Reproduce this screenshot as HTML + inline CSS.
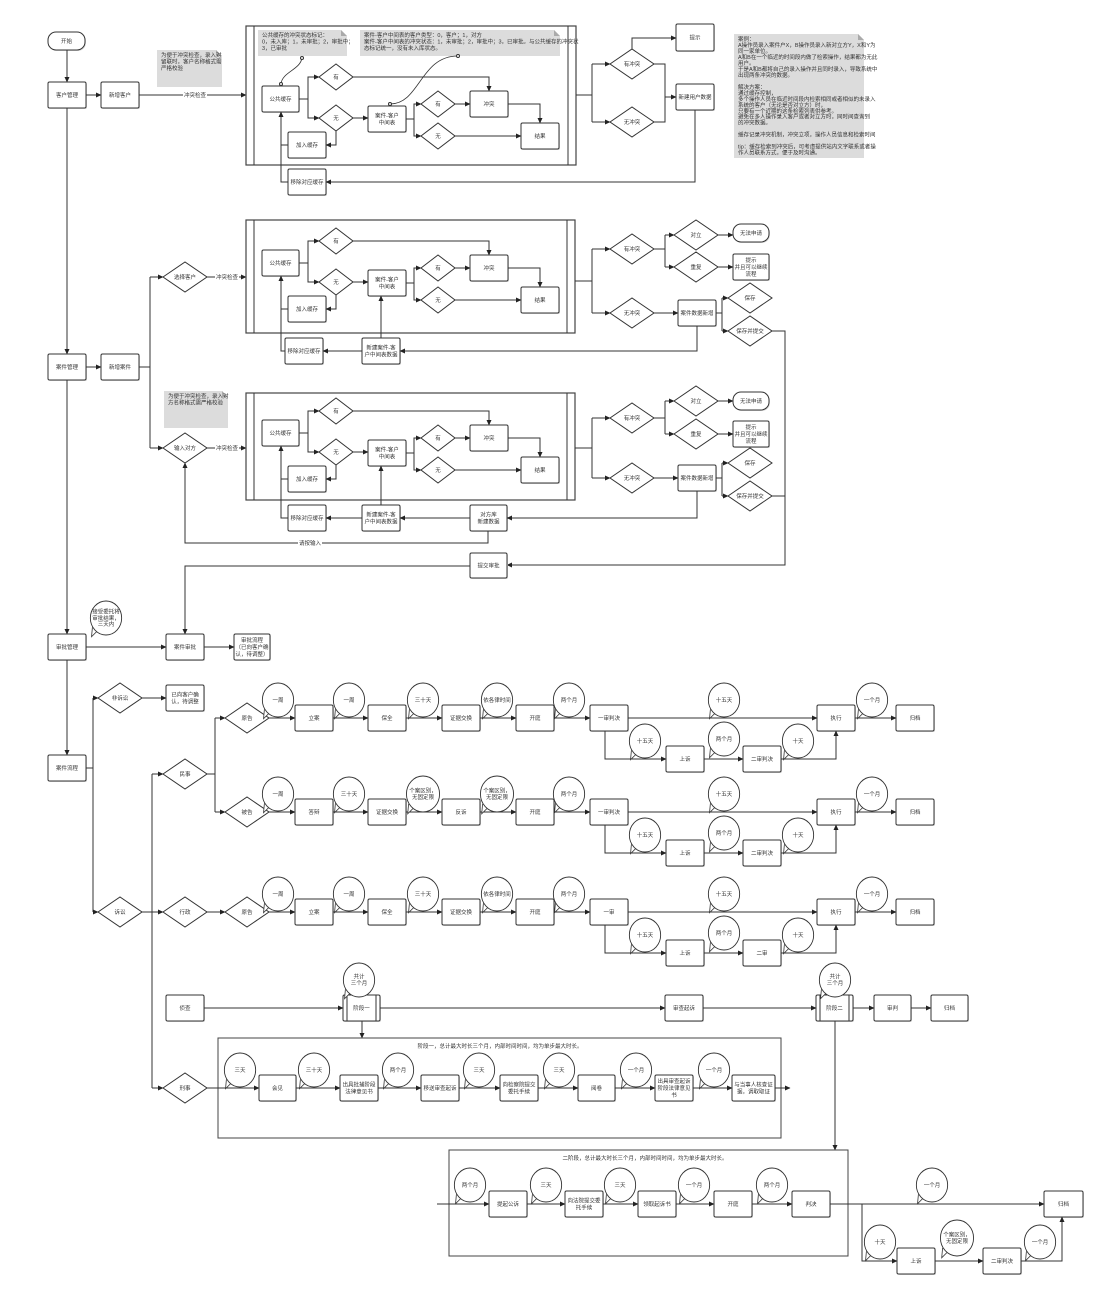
<!DOCTYPE html>
<html><head><meta charset="utf-8">
<style>
html,body{margin:0;padding:0;background:#fff;}
svg{display:block;}
text{font-family:"Liberation Sans","Noto Sans CJK SC",sans-serif;font-size:5.5px;fill:#333;}
</style></head>
<body>
<svg id="s" width="1100" height="1296" viewBox="0 0 1100 1296" xmlns="http://www.w3.org/2000/svg">
<defs>
<marker id="a" markerWidth="6" markerHeight="6" refX="5" refY="3" orient="auto" markerUnits="userSpaceOnUse">
<path d="M0,0.5 L5.5,3 L0,5.5 z" fill="#222"/></marker>
</defs>
<g id="g"></g>
</svg>
<script>
var G=document.getElementById('g'),NS='http://www.w3.org/2000/svg';
function el(t,at,txt){var e=document.createElementNS(NS,t);for(var k in at)e.setAttribute(k,at[k]);if(txt!=null)e.textContent=txt;G.appendChild(e);return e;}
function txt(cx,cy,s,fs){var L=s.split('\n'),lh=(fs||5.5)*1.25;var y0=cy-(L.length-1)*lh/2+ (fs||5.5)*0.35;
 for(var i=0;i<L.length;i++)el('text',{x:cx,y:y0+i*lh,'text-anchor':'middle','font-size':fs||5.5},L[i]);}
function box(x1,y1,x2,y2,s,r){el('rect',{x:x1+1,y:y1+1,width:x2-x1,height:y2-y1,fill:'#ddd',rx:r||1.5});
 el('rect',{x:x1,y:y1,width:x2-x1,height:y2-y1,fill:'#fff',stroke:'#333','stroke-width':1,rx:r||1.5});txt((x1+x2)/2,(y1+y2)/2,s);}
function dia(cx,cy,w,h,s){el('polygon',{points:(cx-w/2)+','+cy+' '+cx+','+(cy-h/2)+' '+(cx+w/2)+','+cy+' '+cx+','+(cy+h/2),fill:'#fff',stroke:'#333','stroke-width':1});txt(cx,cy,s);}
function ln(p,arr){var d='M'+p[0]+','+p[1];for(var i=2;i<p.length;i+=2)d+=' L'+p[i]+','+p[i+1];
 var at={d:d,fill:'none',stroke:'#333','stroke-width':1};if(arr!==false)at['marker-end']='url(#a)';el('path',at);}
function bub(cx,cy,s,r){r=r||17;el('path',{d:'M'+(cx-r*0.55)+','+(cy+r*0.8)+' L'+(cx-r*0.85)+','+(cy+r*1.1)+' L'+(cx-r*0.8)+','+(cy+r*0.55),fill:'#fff',stroke:'#333','stroke-width':0.8});
 el('ellipse',{cx:cx,cy:cy,rx:r*0.92,ry:r,fill:'#fff',stroke:'#333','stroke-width':0.9});txt(cx,cy,s,5);}
function note(x,y,w,h,s,fs){el('path',{d:'M'+x+','+y+' H'+(x+w-6)+' L'+(x+w)+','+(y+6)+' V'+(y+h)+' H'+x+' Z',fill:'#dcdcdc'});
 el('path',{d:'M'+(x+w-6)+','+y+' V'+(y+6)+' H'+(x+w)+' Z',fill:'#aaa'});
 var L=s.split('\n'),lh=(fs||5)*1.3;for(var i=0;i<L.length;i++)el('text',{x:x+4,y:y+7+i*lh,'font-size':fs||5},L[i]);}
function lbl(x,y,s){el('rect',{x:x-12,y:y-3.5,width:24,height:7,fill:'#fff'});txt(x,y,s,5);}
function cont(x1,y1,x2,y2){el('rect',{x:x1,y:y1,width:x2-x1,height:y2-y1,fill:'none',stroke:'#444','stroke-width':1.2});
 ln([x1+8,y1,x1+8,y2],false);ln([x2-8,y1,x2-8,y2],false);}

/* ---------- inner check block ---------- */
function inner(by){
 box(262,by,299,by+26,'公共缓存');
 dia(336,by-9,34,26,'有');dia(336,by+32,34,26,'无');
 box(288,by+46,326,by+72,'加入缓存');
 box(368,by+20,406,by+46,'案件-客户\n中间表');
 dia(438,by+18,34,26,'有');dia(438,by+50,34,26,'无');
 box(470,by+5,508,by+31,'冲突');box(521,by+37,559,by+63,'结果');
 ln([299,by+13,308,by+13,308,by-9,319,by-9]);ln([308,by+13,308,by+32,319,by+32]);
 ln([353,by-9,489,by-9,489,by+5]);ln([353,by+32,368,by+32]);
 ln([336,by+45,336,by+59,326,by+59]);
 ln([406,by+33,414,by+33,414,by+18,421,by+18]);ln([414,by+33,414,by+50,421,by+50]);
 ln([455,by+18,470,by+18]);ln([455,by+50,521,by+50]);
 ln([508,by+18,540,by+18,540,by+37]);
 ln([288,by+59,281,by+59],false);
}
/* ---------- section 1 ---------- */
box(48,32,85,50,'开始',8);
ln([67,50,67,82]);
box(48,82,86,108,'客户管理');box(101,82,139,108,'新增客户');
ln([86,95,101,95]);
note(157,50,65,37,'为便于冲突检查，录入对\n留联时，客户名称格式需\n严格校验');
ln([139,95,246,95]);lbl(195,95,'冲突检查');
cont(246,26,576,165);
note(258,30,89,26,'公共缓存的冲突状态标记：\n0，未入库；1，未审批；2，审批中；\n3，已审批');
note(360,30,200,26,'案件-客户中间表的客户类型：0，客户；1，对方\n案件-客户中间表的冲突状态：1，未审批；2，审批中；3，已审批。与公共缓存的冲突状\n态标记统一，没有未入库状态。');
inner(86);
el('path',{d:'M302,58 C300,70 282,72 281,84',fill:'none',stroke:'#333','stroke-width':0.8});
el('circle',{cx:302,cy:58,r:1.5,fill:'#fff',stroke:'#333'});el('circle',{cx:281,cy:84,r:1.5,fill:'#fff',stroke:'#333'});
el('path',{d:'M458,56 C420,56 420,104 390,104',fill:'none',stroke:'#333','stroke-width':0.8});
el('circle',{cx:458,cy:56,r:1.5,fill:'#fff',stroke:'#333'});el('circle',{cx:390,cy:104,r:1.5,fill:'#fff',stroke:'#333'});
box(288,169,326,195,'移除对应缓存');
ln([288,182,281,182,281,112]);
ln([576,95,592,95],false);ln([592,64,592,122],false);ln([592,64,610,64]);ln([592,122,610,122]);
dia(632,64,44,30,'有冲突');dia(632,122,44,30,'无冲突');
box(676,24,714,51,'提示');box(676,84,714,110,'新建用户数据');
ln([632,49,632,38,676,38]);
ln([654,64,665,64,665,122,654,122],false);ln([665,97,676,97]);
ln([695,110,695,182,326,182]);
note(734,34,130,124,'案例：\nA操作员录入案件户X，B操作员录入新对立方Y，X和Y为\n同一家单位。\nA和B在一个临近的时间段内做了检索操作，结果都为无此\n用户。\n于是A和B都将自己的录入操作并且同时录入，导致系统中\n出现两条冲突的数据。\n\n解决方案：\n通过缓存控制，\n多个操作人员在临近时间段内检索相同或者相似的未录入\n系统的客户（无论是否对立方）时，\n只要有一个近期的这条检索列表供参考。\n避免在多人操作录入客户或者对立方时，同时间查询到\n的冲突数据。\n\n缓存记录冲突机制，冲突立项，操作人员信息和检索时间\n\ntip：缓存检索到冲突后，可考虑提供站内文字联系或者操\n作人员联系方式，便于及时沟通。',4.6);

/* ---------- left spine ---------- */
ln([67,108,67,354]);
box(48,354,86,380,'案件管理');box(101,354,139,380,'新增案件');
ln([86,367,101,367]);
ln([139,367,150,367],false);ln([150,277,150,448],false);ln([150,277,163,277]);ln([150,448,163,448]);

/* ---------- section 2 ---------- */
dia(185,277,44,30,'选择客户');
ln([207,277,246,277]);lbl(227,277,'冲突检查');
cont(246,220,575,333);
inner(250);
box(285,338,323,364,'移除对应缓存');box(362,338,400,364,'新建案件-客\n户中间表数据');
ln([381,338,381,296]);ln([362,351,323,351]);ln([285,351,281,351,281,276]);
ln([575,281,592,281],false);ln([592,249,592,313],false);ln([592,249,610,249]);ln([592,313,610,313]);
dia(632,249,44,30,'有冲突');dia(632,313,44,30,'无冲突');
ln([654,249,665,249],false);ln([665,235,665,267],false);ln([665,235,674,235]);ln([665,267,674,267]);
dia(696,235,44,30,'对立');dia(696,267,44,30,'重复');
box(733,224,769,242,'无法申请',8);box(733,254,769,280,'提示\n并且可以继续\n流程');
ln([718,235,733,235]);ln([718,267,733,267]);
ln([654,313,678,313]);box(678,300,716,326,'案件数据新增');
ln([716,313,722,313],false);ln([722,298,722,331],false);ln([722,298,728,298]);ln([722,331,728,331]);
dia(750,298,44,30,'保存');dia(750,331,44,30,'保存并提交');
ln([697,326,697,351,400,351]);
ln([772,331,785,331,785,565,507,565]);

/* ---------- section 3 ---------- */
note(164,391,64,37,'为便于冲突检查，录入对\n方名称格式需严格校验');
dia(185,448,44,30,'输入对方');
ln([207,448,246,448]);lbl(227,448,'冲突检查');
cont(246,393,575,500);
inner(420);
box(288,505,326,531,'移除对应缓存');box(362,505,400,531,'新建案件-客\n户中间表数据');box(470,505,507,531,'对方库\n新建数据');
ln([381,505,381,466]);ln([362,518,326,518]);ln([288,518,281,518,281,446]);ln([470,518,400,518]);
ln([488,531,488,543,185,543,185,463]);lbl(310,543,'请按输入');
ln([575,448,592,448],false);ln([592,418,592,478],false);ln([592,418,610,418]);ln([592,478,610,478]);
dia(632,418,44,30,'有冲突');dia(632,478,44,30,'无冲突');
ln([654,418,665,418],false);ln([665,401,665,434],false);ln([665,401,674,401]);ln([665,434,674,434]);
dia(696,401,44,30,'对立');dia(696,434,44,30,'重复');
box(733,392,769,410,'无法申请',8);box(733,421,769,447,'提示\n并且可以继续\n流程');
ln([718,401,733,401]);ln([718,434,733,434]);
ln([654,478,678,478]);box(678,465,716,491,'案件数据新增');
ln([716,478,722,478],false);ln([722,463,722,496],false);ln([722,463,728,463]);ln([722,496,728,496]);
dia(750,463,44,30,'保存');dia(750,496,44,30,'保存并提交');
ln([697,491,697,518,507,518]);
ln([772,496,785,496],false);
box(470,553,507,578,'提交审批');
ln([470,566,185,566,185,634]);

/* ---------- approval ---------- */
ln([67,380,67,634]);
box(48,634,86,660,'审批管理');bub(106,618,'接受委托将\n审批结果，\n三天内',17);
box(166,634,204,660,'案件审批');box(234,634,270,660,'审批流程\n（已向客户确\n认，待调整）');
ln([86,647,166,647]);ln([204,647,234,647]);
ln([67,660,67,755]);
box(48,755,86,781,'案件流程');
ln([86,768,93,768],false);ln([93,698,93,912],false);ln([93,698,98,698]);ln([93,912,98,912]);
dia(120,698,44,30,'非诉讼');dia(120,912,44,30,'诉讼');
box(166,685,204,711,'已向客户确\n认，待调整');ln([142,698,166,698]);
ln([142,912,163,912]);ln([152,774,152,1088],false);ln([152,774,163,774]);ln([152,1088,163,1088]);
dia(185,774,44,30,'民事');dia(185,912,44,30,'行政');dia(185,1088,44,30,'刑事');
ln([207,774,215,774],false);ln([215,718,215,812],false);ln([215,718,225,718]);ln([215,812,225,812]);
ln([207,912,225,912]);

function row(cy,dlabel,names,bubs,first,sub,subb){
 dia(247,cy,44,30,dlabel);
 var xs=[295,368,442,516];
 ln([269,cy,295,cy]);
 for(var i=0;i<4;i++){box(xs[i],cy-13,xs[i]+38,cy+13,names[i]);ln([xs[i]+38,cy,(i<3?xs[i+1]:590),cy]);}
 box(590,cy-13,628,cy+13,first);box(817,cy-13,855,cy+13,'执行');box(896,cy-13,934,cy+13,'归档');
 ln([628,cy,817,cy]);ln([855,cy,896,cy]);
 box(666,cy+28,704,cy+54,'上诉');box(743,cy+28,781,cy+54,sub);
 ln([605,cy+13,605,cy+41,666,cy+41]);ln([704,cy+41,743,cy+41]);ln([781,cy+41,836,cy+41,836,cy+13]);
 var bx=[278,349,423,497,569,724,872];
 for(i=0;i<7;i++)bub(bx[i],cy-18,bubs[i],bubs[i].length>5?18:17);
 bub(645,cy+23,'十五天');bub(724,cy+21,'两个月');bub(798,cy+23,'十天');
}
row(718,'原告',['立案','保全','证据交换','开庭'],['一周','一周','三十天','依各律时间','两个月','十五天','一个月'],'一审判决','二审判决');
row(812,'被告',['答辩','证据交换','反诉','开庭'],['一周','三十天','个案区别，\n无固定限','个案区别，\n无固定限','两个月','十五天','一个月'],'一审判决','二审判决');
row(912,'原告',['立案','保全','证据交换','开庭'],['一周','一周','三十天','依各律时间','两个月','十五天','一个月'],'一审','二审');

/* ---------- criminal ---------- */
box(166,995,204,1021,'侦查');
function stage(x1,s){box(x1,995,x1+37,1021,s);ln([x1+4,995,x1+4,1021],false);ln([x1+33,995,x1+33,1021],false);}
stage(343,'阶段一');stage(816,'阶段二');
bub(359,980,'共计\n三个月');bub(835,980,'共计\n三个月');
box(665,995,703,1021,'审查起诉');box(874,995,911,1021,'审判');box(931,995,968,1021,'归档');
ln([204,1008,343,1008]);ln([380,1008,665,1008]);ln([703,1008,816,1008]);ln([853,1008,874,1008]);ln([911,1008,931,1008]);
ln([362,1021,362,1038]);
el('rect',{x:218,y:1038,width:563,height:100,fill:'none',stroke:'#444','stroke-width':1});
txt(500,1046,'阶段一，总计最大时长三个月，内部时间时间，均为单步最大时长。',5);
ln([207,1088,259,1088]);
var cx=[[259,296,'会见'],[340,378,'出具批捕阶段\n法律意见书'],[421,459,'移送审查起诉'],[500,538,'向检察院提交\n委托手续'],[578,615,'阅卷'],[655,693,'出具审查起诉\n阶段法律意见\n书'],[732,775,'与当事人核查证\n据，调取取证']];
for(var i=0;i<cx.length;i++){box(cx[i][0],1075,cx[i][1],1101,cx[i][2]);ln([cx[i][1],1088,(i<6?cx[i+1][0]:790),1088]);}
var cb=[[240,'三天'],[314,'三十天'],[398,'两个月'],[479,'三天'],[559,'三天'],[636,'一个月'],[714,'一个月']];
for(i=0;i<7;i++)bub(cb[i][0],1070,cb[i][1]);
ln([835,1021,835,1150]);
el('rect',{x:449,y:1150,width:399,height:106,fill:'none',stroke:'#444','stroke-width':1});
txt(645,1158,'二阶段，总计最大时长三个月，内部时间时间，均为单步最大时长。',5);
ln([437,1204,489,1204]);
var c2=[[489,527,'提起公诉'],[565,603,'向法院提交委\n托手续'],[638,676,'领取起诉书'],[714,752,'开庭'],[792,830,'判决']];
for(i=0;i<c2.length;i++){box(c2[i][0],1191,c2[i][1],1217,c2[i][2]);if(i<4)ln([c2[i][1],1204,c2[i+1][0],1204]);}
box(1044,1191,1083,1217,'归档');ln([830,1204,1044,1204]);
var b2=[[470,'两个月'],[546,'三天'],[620,'三天'],[694,'一个月'],[772,'两个月'],[932,'一个月']];
for(i=0;i<6;i++)bub(b2[i][0],1185,b2[i][1]);
box(897,1248,935,1274,'上诉');box(983,1248,1021,1274,'二审判决');
ln([862,1204,862,1261,897,1261]);ln([935,1261,983,1261]);ln([1021,1261,1062,1261,1062,1217]);
bub(880,1242,'十天');bub(957,1238,'个案区别，\n无固定限',18);bub(1040,1242,'一个月');
</script>
</body></html>
